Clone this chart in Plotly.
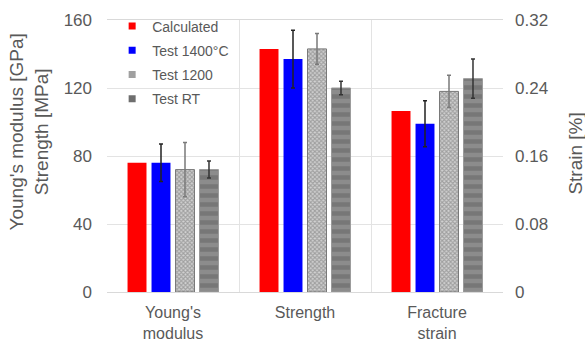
import plotly.graph_objects as go

# Categories and tick labels
categories = ["Young's modulus", "Strength", "Fracture strain"]
tick_labels = ["Young's<br>modulus", "Strength", "Fracture<br>strain"]
mech_categories = categories[:2]
strain_categories = categories[2:]

# Young's modulus [GPa] and strength [MPa]
calc_mech = [76, 143]
t1400_mech = [76, 137]
t1400_mech_err = [11, 17]
t1200_mech = [72, 143]
t1200_mech_err = [16, 9]
trt_mech = [72, 120]
trt_mech_err = [5, 4]

# Fracture strain [%]
calc_strain = [0.213]
t1400_strain = [0.198]
t1400_strain_err = [0.027]
t1200_strain = [0.236]
t1200_strain_err = [0.019]
trt_strain = [0.251]
trt_strain_err = [0.023]

series_names = ["Calculated", "Test 1400°C", "Test 1200", "Test RT"]

TEXT = "#595959"
GRID = "#e3e3e3"
FONT = "Liberation Sans, Arial, sans-serif"

styles = [
    dict(marker=dict(color="#ff0000", line=dict(width=0)), err_color=None),
    dict(marker=dict(color="#0000ff", line=dict(width=0)), err_color="#222222"),
    dict(marker=dict(color="#a0a0a0",
                     line=dict(width=1, color="#777777"),
                     pattern=dict(shape="x", fgcolor="#6e6e6e", bgcolor="#d2d2d2",
                                  size=3, solidity=0.6)),
         err_color="#7a7a7a"),
    dict(marker=dict(color="#7a7a7a",
                     line=dict(width=1, color="#9a9a9a"),
                     pattern=dict(shape="-", fgcolor="#626262", bgcolor="#8c8c8c",
                                  size=9, solidity=0.5)),
         err_color="#333333"),
]

mech_vals = [calc_mech, t1400_mech, t1200_mech, trt_mech]
mech_errs = [None, t1400_mech_err, t1200_mech_err, trt_mech_err]
strain_vals = [calc_strain, t1400_strain, t1200_strain, trt_strain]
strain_errs = [None, t1400_strain_err, t1200_strain_err, trt_strain_err]

fig = go.Figure()


def err(values, color):
    if values is None:
        return dict(visible=False)
    return dict(type="data", array=values, visible=True, color=color,
                thickness=1.5, width=2)


for name, st, v, e in zip(series_names, styles, mech_vals, mech_errs):
    fig.add_trace(go.Bar(x=mech_categories, y=v, name=name, marker=st["marker"],
                         error_y=err(e, st["err_color"]), showlegend=False,
                         yaxis="y"))

for name, st, v, e in zip(series_names, styles, strain_vals, strain_errs):
    fig.add_trace(go.Bar(x=strain_categories, y=v, name=name, marker=st["marker"],
                         error_y=err(e, st["err_color"]), showlegend=False,
                         yaxis="y2"))

# Legend entries with small square swatches
legend_colors = ["#ff0000", "#0000ff", "#a0a0a0", "#6e6e6e"]
for i, (name, col) in enumerate(zip(series_names, legend_colors)):
    fig.add_trace(go.Scatter(x=[None], y=[None], mode="markers", name=name,
                             legendgroup=f"g{i}",
                             marker=dict(symbol="square", size=7, color=col,
                                         line=dict(width=0))))

fig.update_layout(
    width=585, height=341,
    margin=dict(l=107, r=82, t=20, b=49, autoexpand=False),
    paper_bgcolor="white", plot_bgcolor="white",
    font=dict(family=FONT, color=TEXT, size=17),
    barmode="group", bargap=0.273, bargroupgap=0.21,
    showlegend=True,
    legend=dict(x=0.013, y=1.035, xanchor="left", yanchor="top",
                bgcolor="rgba(0,0,0,0)", font=dict(size=14, color=TEXT),
                tracegroupgap=3, itemclick=False),
    xaxis=dict(type="category", categoryorder="array", categoryarray=categories,
               tickvals=categories, ticktext=tick_labels, automargin=False,
               range=[-0.5, 2.5], tickson="boundaries", ticks="",
               showgrid=True, gridcolor=GRID, gridwidth=1,
               showline=True, mirror=True, linecolor="#d9d9d9", linewidth=1,
               ticklabelstandoff=6, tickfont=dict(size=16, color=TEXT)),
    yaxis=dict(range=[0, 160], dtick=40, showgrid=True, gridcolor=GRID,
               zeroline=False, showline=False, ticks="", automargin=False,
               ticklabelstandoff=14, tickfont=dict(size=17, color=TEXT)),
    yaxis2=dict(range=[0, 0.32], dtick=0.08, overlaying="y", side="right",
                showgrid=False, zeroline=False, showline=False, ticks="",
                automargin=False,
                ticklabelstandoff=11, tickfont=dict(size=17, color=TEXT)),
    annotations=[
        dict(text="Young's modulus [GPa]<br>Strength [MPa]", textangle=-90,
             xref="paper", yref="paper", x=-0.196, y=0.588,
             xanchor="center", yanchor="middle", showarrow=False,
             font=dict(size=19, color=TEXT)),
        dict(text="Strain [%]", textangle=-90,
             xref="paper", yref="paper", x=1.182, y=0.509,
             xanchor="center", yanchor="middle", showarrow=False,
             font=dict(size=19, color=TEXT)),
    ],
)

fig.write_html("out.html")
